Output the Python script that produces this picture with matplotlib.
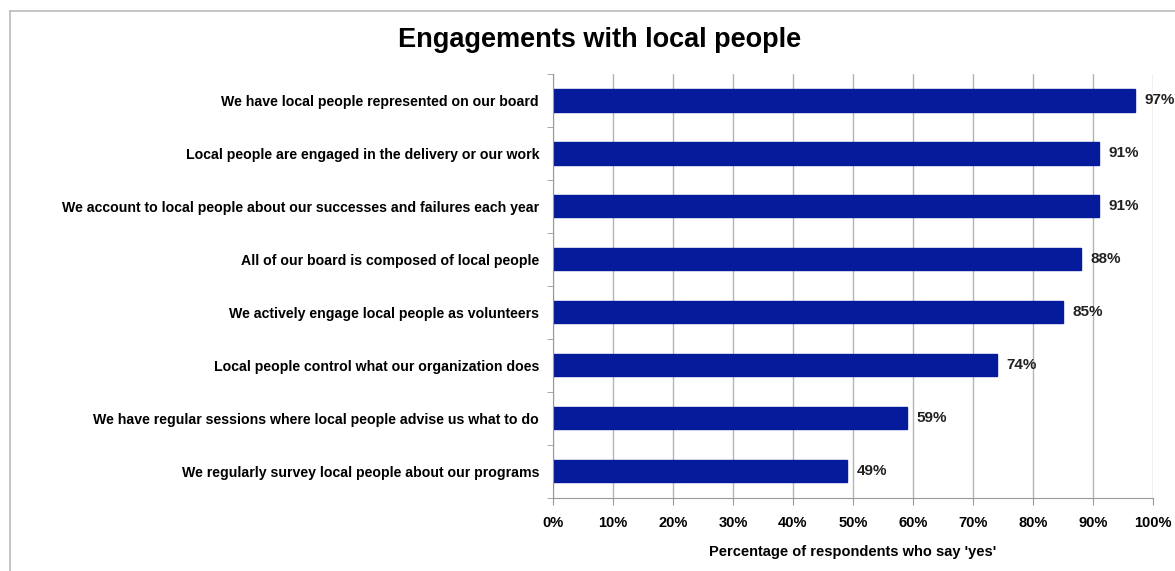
import matplotlib.pyplot as plt
import numpy as np
from matplotlib.lines import Line2D

# Data
categories = [
    'We have local people represented on our board',
    'Local people are engaged in the delivery or our work',
    'We account to local people about our successes and failures each year',
    'All of our board is composed of local people',
    'We actively engage local people as volunteers',
    'Local people control what our organization does',
    'We have regular sessions where local people advise us what to do',
    'We regularly survey local people about our programs',
]
values = [97, 91, 91, 88, 85, 74, 59, 49]
x_ticks = [0, 10, 20, 30, 40, 50, 60, 70, 80, 90, 100]

plt.rcParams['font.family'] = ['Liberation Sans', 'DejaVu Sans']

fig = plt.figure(figsize=(11.75, 5.71), dpi=100)
ax = fig.add_axes([553/1175, 1 - 497.5/571, 600/1175, 423.5/571])

y = np.arange(len(categories))[::-1]
ax.barh(y, values, height=0.42, color='#051B9C', edgecolor='#051B9C', zorder=3)

for yi, v in zip(y, values):
    ax.text(v + 1.6, yi, f'{v}%', va='center', ha='left',
            fontsize=11, fontweight='bold', color='#222222', zorder=4)

ax.set_xlim(0, 100)
ax.set_ylim(-0.5, len(categories) - 0.5)
ax.set_xticks(x_ticks)
ax.set_xticklabels([f'{t}%' for t in x_ticks], fontsize=10.5, fontweight='bold')
ax.set_yticks(y)
ax.set_yticklabels(categories, fontsize=10.15, fontweight='bold')
ax.set_yticks(np.arange(-0.5, len(categories), 1), minor=True)
ax.tick_params(axis='y', which='major', length=0, pad=10)
ax.tick_params(axis='y', which='minor', length=4, color='#999999', direction='out')
ax.tick_params(axis='x', length=5, color='#999999', pad=8)

ax.grid(axis='x', color='#b4b4b4', linewidth=1, zorder=0)
for s in ['top', 'right']:
    ax.spines[s].set_visible(False)
for s in ['left', 'bottom']:
    ax.spines[s].set_color('#999999')
    ax.spines[s].set_zorder(5)

ax.set_xlabel("Percentage of respondents who say 'yes'", fontsize=10.5,
              fontweight='bold', labelpad=11)

fig.text(600/1175, 1 - 40/571, 'Engagements with local people', ha='center',
         va='center', fontsize=19.5, fontweight='bold')

# outer chart border (left and top edges visible)
fig.add_artist(Line2D([10/1175, 10/1175], [0, 1 - 11/571], color='#bbbbbb', lw=1.2))
fig.add_artist(Line2D([10/1175, 1], [1 - 11/571, 1 - 11/571], color='#bbbbbb', lw=1.2))

plt.savefig('out.png', dpi=100)
